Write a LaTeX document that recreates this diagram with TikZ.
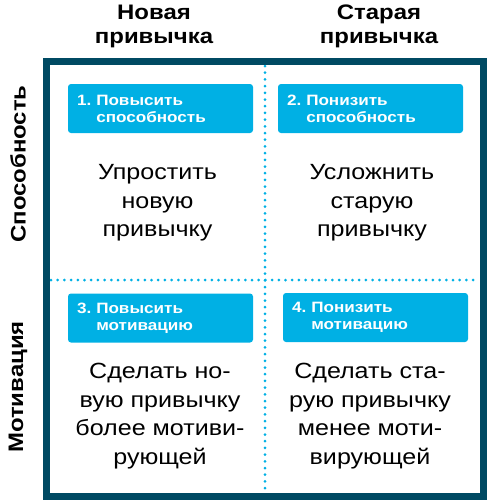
\documentclass[tikz,border=0pt]{standalone}
\usepackage{fontspec}
\setmainfont[FakeStretch=1.14]{Liberation Sans}
\usetikzlibrary{positioning}
\definecolor{frameteal}{RGB}{0,74,99}
\definecolor{tagblue}{RGB}{0,176,228}

\begin{document}
\begin{tikzpicture}[x=1pt,y=-1pt,
  tag/.style={rectangle, rounded corners=3pt, fill=tagblue, text=white,
    font=\fontsize{15}{17}\selectfont\bfseries, minimum width=185pt,
    minimum height=49pt, text width=167pt, inner xsep=9pt, align=left},
  advice/.style={font=\fontsize{22}{28.5}\selectfont, align=center},
  header/.style={font=\fontsize{21}{24}\selectfont\bfseries, align=center},
  divider/.style={tagblue, line width=3pt, line cap=round,
    dash pattern=on 0pt off 6.7pt}]
  \useasboundingbox (0,0) rectangle (487,501);

  % column and row headers
  \node[header] (newh) at (154,26) {Новая\\привычка};
  \node[header] (oldh) at (379,26) {Старая\\привычка};
  \node[header, rotate=90] (abil) at (18,164) {Способность};
  \node[header, rotate=90] (motiv) at (18,387) {Мотивация};

  % dotted dividers
  \coordinate (vtop) at (265,66);
  \coordinate (vbot) at (265,492);
  \coordinate (hleft) at (51,280);
  \coordinate (hright) at (479,280);
  \draw[divider] (vtop) -- (vbot);
  \draw[divider] (hleft) -- (hright);

  % outer frame
  \draw[frameteal, line width=7pt] (46.5,61.5) rectangle (483.5,496.5);

  % quadrants
  \node[tag] (tag1) at (160.5,108.5) {1.~Повысить\\\phantom{1.~}способность};
  \node[tag] (tag2) at (370.5,108.5) {2.~Понизить\\\phantom{2.~}способность};
  \node[tag] (tag3) at (160.5,318) {3.~Повысить\\\phantom{3.~}мотивацию};
  \node[tag] (tag4) at (375.5,317.5) {4.~Понизить\\\phantom{4.~}мотивацию};

  \node[advice] (act1) at (157.5,203) {Упростить\\новую\\привычку};
  \node[advice] (act2) at (372,203) {Усложнить\\старую\\привычку};
  \node[advice] (act3) at (160,416) {Сделать но-\\вую привычку\\более мотиви-\\рующей};
  \node[advice] (act4) at (370,416) {Сделать ста-\\рую привычку\\менее моти-\\вирующей};
\end{tikzpicture}
\end{document}
